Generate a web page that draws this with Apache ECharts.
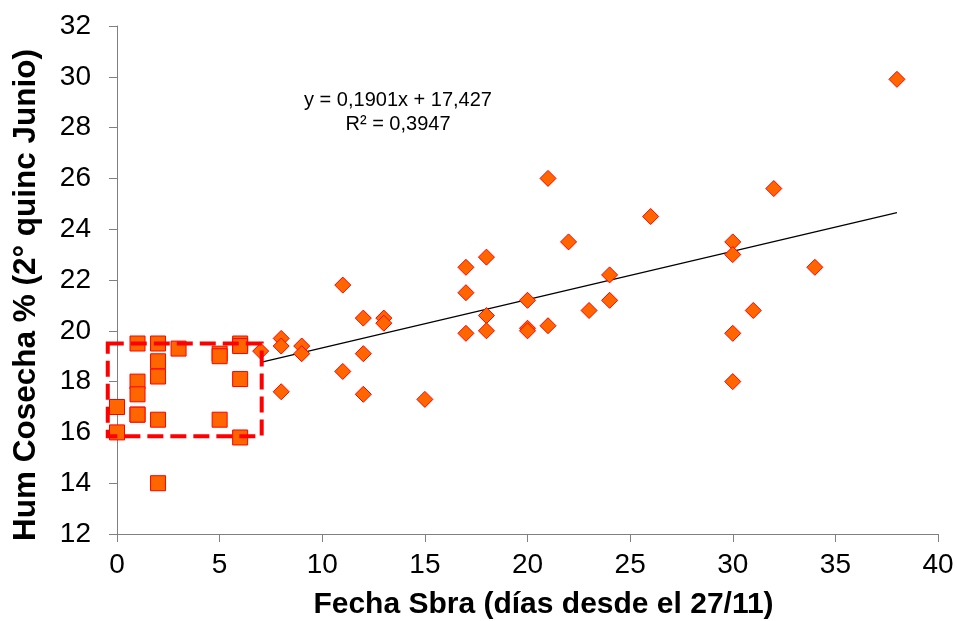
<!DOCTYPE html>
<html>
<head>
<meta charset="utf-8">
<script src="https://cdn.jsdelivr.net/npm/echarts@6/dist/echarts.min.js"></script>
<style>
  html, body { margin: 0; padding: 0; background: #fff; }
  #chart { width: 957px; height: 621px; }
</style>
</head>
<body>
<div id="chart"></div>
<script>
// squares: early sowings (inside the dashed box)
var squareX = [0, 0, 1, 1, 1, 1, 1, 2, 2, 2, 2, 2, 3, 5, 5, 5, 6, 6, 6, 6];
var squareY = [17.0, 16.0, 19.5, 18.0, 17.5, 16.7, 16.7, 19.5, 18.8, 18.2, 16.5, 14.0, 19.3, 19.1, 19.0, 16.5, 19.5, 19.4, 18.1, 15.8];

// diamonds: later sowings
var diamondX = [7, 8, 8, 8, 9, 9, 11, 11, 12, 12, 12, 13, 13, 15, 17, 17, 17, 18, 18, 18, 20, 20, 20, 21, 21, 22, 23, 24, 24, 26, 30, 30, 30, 30, 31, 32, 34, 38];
var diamondY = [19.2, 19.7, 19.4, 17.6, 19.4, 19.1, 21.8, 18.4, 20.5, 19.1, 17.5, 20.5, 20.3, 17.3, 22.5, 21.5, 19.9, 22.9, 20.6, 20.0, 21.2, 20.1, 20.0, 26.0, 20.2, 23.5, 20.8, 22.2, 21.2, 24.5, 23.5, 23.0, 19.9, 18.0, 20.8, 25.6, 22.5, 29.9];

// trend line shown on the chart
var trendSlope = 0.1901;
var trendIntercept = 17.427;
var trendRange = [7, 38];
var trendLabel = ['y = 0,1901x + 17,427', 'R\u00b2 = 0,3947'];

// dashed box around the squares, in data units [x0, y0, x1, y1]
var boxCorners = [-0.45, 19.5, 7.05, 15.85];

var xTicks = [0, 40, 5];
var yTicks = [12, 32, 2];

function zip(xs, ys) {
	var out = [];
	for (var i = 0; i < xs.length; i++) {
		out.push([xs[i], ys[i]]);
	}
	return out;
}

var trendData = trendRange.map(function (x) {
	return [x, trendSlope * x + trendIntercept];
});

var font = 'Arial, "Liberation Sans", sans-serif';
var axisColor = '#808080';

var chart = echarts.init(document.getElementById('chart'));
chart.setOption({
	animation: false,
	backgroundColor: '#fff',
	grid: { left: 117, right: 19, top: 26, bottom: 87, containLabel: false, outerBoundsMode: 'none' },
	xAxis: {
		type: 'value',
		min: xTicks[0], max: xTicks[1], interval: xTicks[2],
		name: 'Fecha Sbra (días desde el 27/11)',
		nameLocation: 'middle',
		nameGap: 56,
		nameTextStyle: { fontFamily: font, fontSize: 30, fontWeight: 'bold', color: '#000', padding: [0, 0, 0, 32] },
		axisLine: { onZero: false, lineStyle: { color: axisColor, width: 1 } },
		axisTick: { length: 8, lineStyle: { color: axisColor } },
		axisLabel: { fontFamily: font, fontSize: 28, color: '#000', margin: 17 },
		splitLine: { show: false }
	},
	yAxis: {
		type: 'value',
		min: yTicks[0], max: yTicks[1], interval: yTicks[2],
		name: 'Hum Cosecha % (2° quinc Junio)',
		nameLocation: 'middle',
		nameGap: 75,
		nameTextStyle: { fontFamily: font, fontSize: 31.5, fontWeight: 'bold', color: '#000', padding: [0, 30, 0, 0] },
		axisLine: { show: true, onZero: false, lineStyle: { color: axisColor, width: 1 } },
		axisTick: { show: true, length: 8, lineStyle: { color: axisColor } },
		axisLabel: { fontFamily: font, fontSize: 28, color: '#000', margin: 26 },
		splitLine: { show: false }
	},
	series: [{
		type: 'line',
		data: trendData,
		symbol: 'none',
		lineStyle: { color: '#000', width: 1.2 },
		z: 2
	}, {
		type: 'scatter',
		data: zip(diamondX, diamondY),
		symbol: 'diamond',
		symbolSize: [16, 16],
		itemStyle: { color: '#FF6600', borderColor: '#FF0000', borderWidth: 1, opacity: 1 },
		clip: false,
		z: 3
	}, {
		type: 'scatter',
		data: zip(squareX, squareY),
		symbol: 'rect',
		symbolSize: 15,
		itemStyle: { color: '#FF6600', borderColor: '#FF0000', borderWidth: 1, opacity: 1 },
		clip: false,
		z: 3
	}, {
		type: 'custom',
		data: [boxCorners],
		clip: false,
		z: 5,
		renderItem: function (params, api) {
			var p0 = api.coord([api.value(0), api.value(1)]);
			var p1 = api.coord([api.value(2), api.value(3)]);
			return {
				type: 'rect',
				shape: { x: p0[0], y: p0[1], width: p1[0] - p0[0], height: p1[1] - p0[1] },
				style: { fill: null, stroke: '#FF0000', lineWidth: 4, lineDash: [16, 7] }
			};
		}
	}],
	graphic: [{
		type: 'text',
		x: 398,
		y: 88,
		style: {
			text: trendLabel.join('\n'),
			font: '20px ' + font,
			fill: '#000',
			align: 'center',
			verticalAlign: 'top',
			lineHeight: 24
		}
	}]
});
</script>
</body>
</html>
